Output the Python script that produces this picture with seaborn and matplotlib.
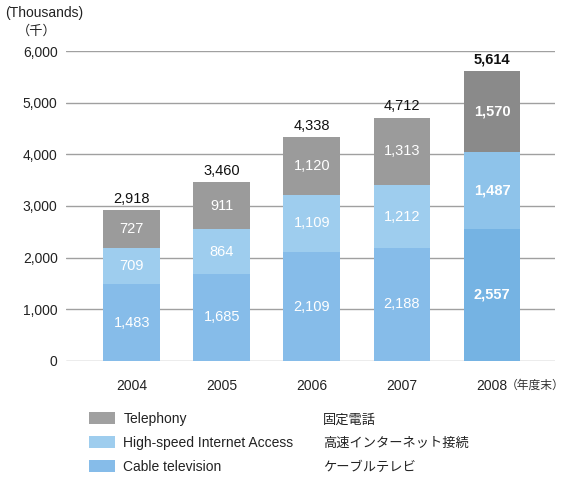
import matplotlib
matplotlib.use("Agg")
import matplotlib.pyplot as plt
from matplotlib.patches import Patch
import seaborn as sns
import numpy as np

# ---------------- data ----------------
years = ["2004", "2005", "2006", "2007", "2008"]
cable = [1483, 1685, 2109, 2188, 2557]
internet = [709, 864, 1109, 1212, 1487]
telephony = [727, 911, 1120, 1313, 1570]
totals = [2918, 3460, 4338, 4712, 5614]

series_en = ["Telephony", "High-speed Internet Access", "Cable television"]
series_ja = ["固定電話", "高速インターネット接続", "ケーブルテレビ"]

# normal years vs. highlighted 2008
col_tel = ["#9b9b9b"] * 4 + ["#8a8a8a"]
col_net = ["#9ecdee"] * 4 + ["#8ec3ea"]
col_cab = ["#86bce9"] * 4 + ["#75b3e3"]

sns.set_style("white")
plt.rcParams["font.family"] = ["Liberation Sans", "Noto Sans CJK JP", "DejaVu Sans"]
plt.rcParams["text.color"] = "#222222"

fig = plt.figure(figsize=(5.64, 4.78), dpi=100)
ax = fig.add_axes([0.117, 0.2448, 0.867, 0.6485])

net_top = np.array(cable) + np.array(internet)
bar_w = 0.63
# draw stacked bars back-to-front (cumulative heights)
for heights, pal in [(totals, col_tel), (net_top, col_net), (cable, col_cab)]:
    sns.barplot(x=years, y=heights, hue=years, palette=pal, legend=False,
                width=bar_w, ax=ax, saturation=1, linewidth=0, zorder=3)

ax.set_ylim(0, 6000)
ax.set_xlim(-0.73, 4.7)
ax.set_yticks(range(0, 6001, 1000))
ax.set_yticklabels([f"{v:,}" for v in range(0, 6001, 1000)])
ax.yaxis.grid(True, color="#a0a0a0", lw=1, zorder=0)
ax.set_axisbelow(True)
for s in ax.spines.values():
    s.set_visible(False)
ax.tick_params(length=0, labelsize=10, colors="#222222")
ax.tick_params(axis="y", pad=6)
ax.tick_params(axis="x", pad=13)
ax.set_xlabel("")
ax.set_ylabel("")

# segment labels
for i in range(len(years)):
    bold = "bold" if i == 4 else "normal"
    mids = [cable[i] / 2, cable[i] + internet[i] / 2, net_top[i] + telephony[i] / 2]
    vals = [cable[i], internet[i], telephony[i]]
    for m, v in zip(mids, vals):
        ax.text(i, m, f"{v:,}", ha="center", va="center", color="white",
                fontsize=10.5, fontweight=bold, zorder=4)
    ax.annotate(f"{totals[i]:,}", (i, totals[i]), xytext=(0, 3),
                textcoords="offset points", ha="center", va="bottom",
                fontsize=10.5, fontweight=bold, color="#111111")

ax.annotate("（年度末）", (4, 0), xycoords=("data", "axes fraction"),
            xytext=(10, -13.5), textcoords="offset points", ha="left", va="top",
            fontsize=8.5, color="#333333")

# unit labels
fig.text(0.009, 0.972, "(Thousands)", fontsize=10, ha="left", va="center")
fig.text(0.030, 0.935, "（千）", fontsize=9.5, ha="left", va="center")

# legend
handles = [Patch(facecolor=c, edgecolor="none") for c in ["#a0a0a0", "#9ecdee", "#86bce9"]]
fig.legend(handles, series_en, loc="upper left", bbox_to_anchor=(0.158, 0.138),
           frameon=False, fontsize=10, handlelength=1.87, handleheight=1.0,
           labelspacing=0.72, handletextpad=0.6, borderaxespad=0, borderpad=0)
for k, t in enumerate(series_ja):
    fig.text(0.573, 0.125 - k * 0.0502 - 0.004, t, fontsize=9.5, ha="left", va="center")

fig.savefig("out.png", dpi=100)
